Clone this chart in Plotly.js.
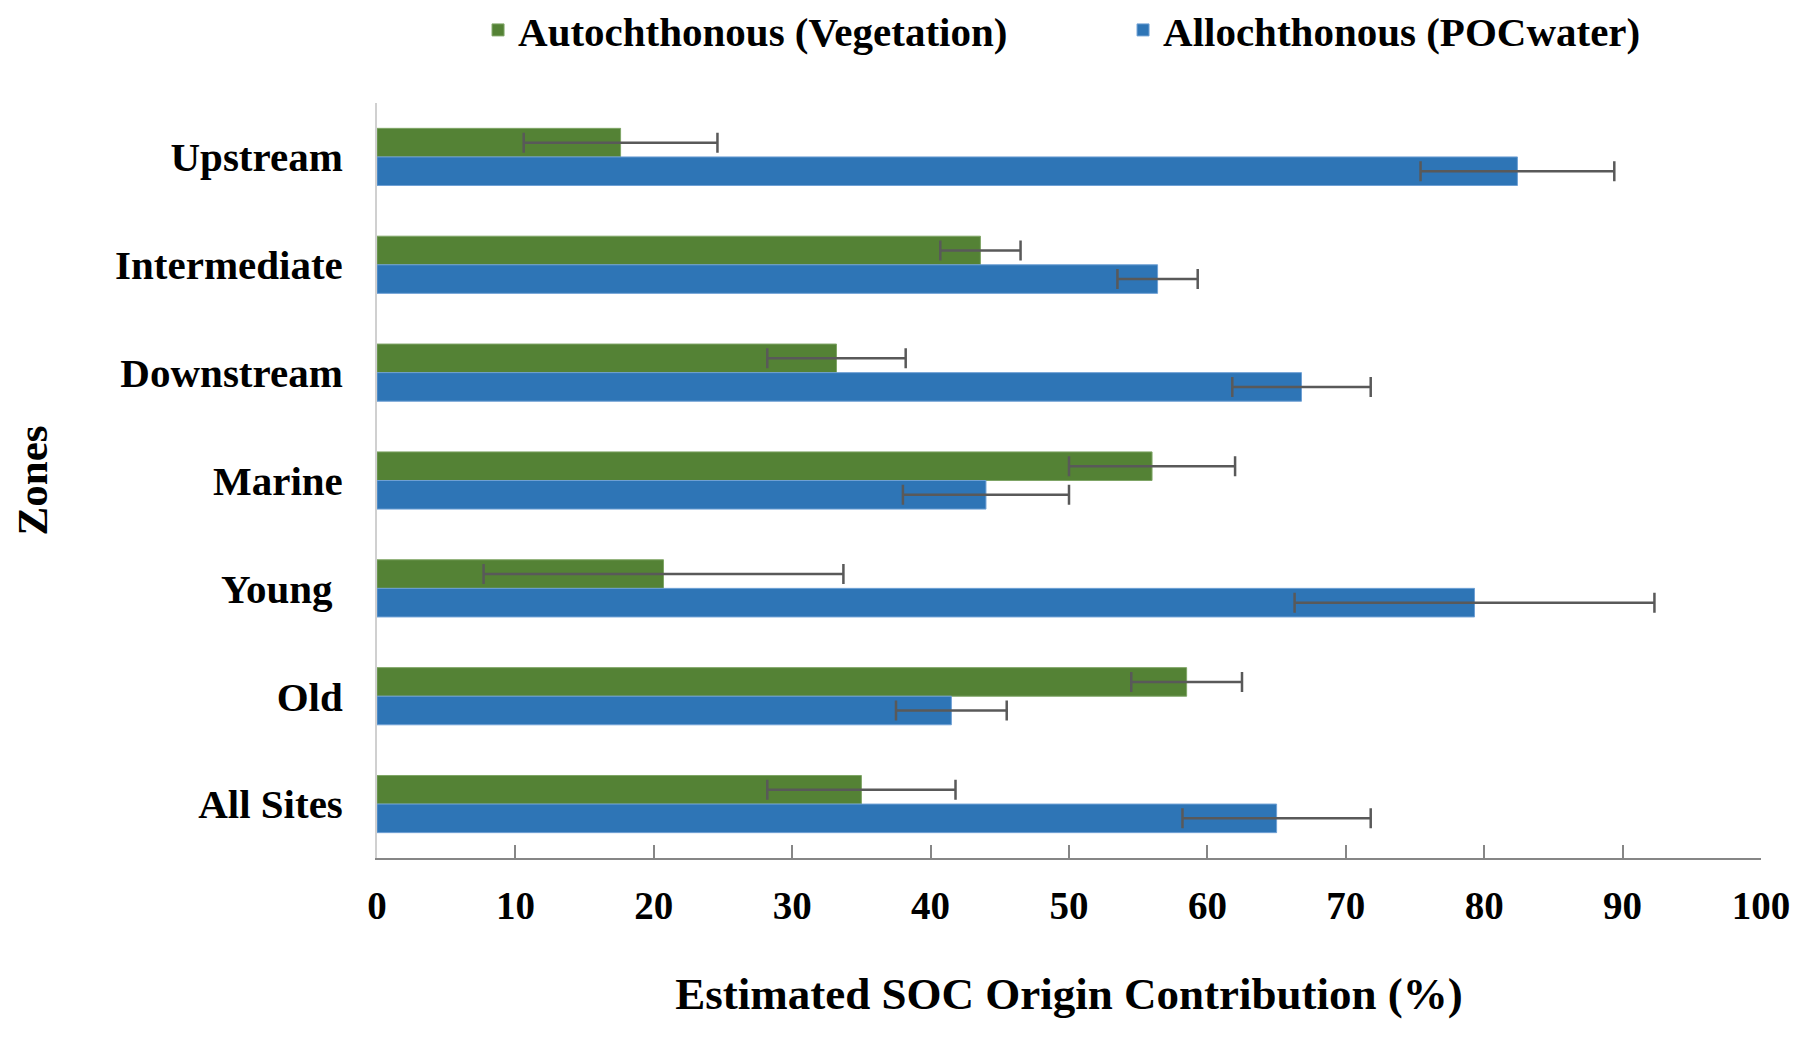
<!DOCTYPE html>
<html>
<head>
<meta charset="utf-8">
<script src="https://cdn.plot.ly/plotly-3.0.1.min.js"></script>
<style>html,body{margin:0;padding:0;background:#fff;}#chart{width:1811px;height:1043px;}</style>
</head>
<body>
<div id="chart"></div>
<script>
const zones = ["Upstream", "Intermediate", "Downstream", "Marine", "Young ", "Old", "All Sites"];
const autochthonous = [17.6, 43.6, 33.2, 56.0, 20.7, 58.5, 35.0];
const allochthonous = [82.4, 56.4, 66.8, 44.0, 79.3, 41.5, 65.0];
const errorValues = [7.0, 2.9, 5.0, 6.0, 13.0, 4.0, 6.8];
const xTicks = [0, 10, 20, 30, 40, 50, 60, 70, 80, 90, 100];

const FONT = "Liberation Serif, Times New Roman, serif";
const errStyle = {type: 'data', array: errorValues, visible: true, color: '#595959', thickness: 2.5, width: 10};

const traces = [
  {
    type: 'bar', orientation: 'h', name: 'Autochthonous (Vegetation)',
    y: zones, x: autochthonous,
    marker: {color: '#548235', line: {color: '#7fa566', width: 1}},
    error_x: errStyle, hoverinfo: 'x+y'
  },
  {
    type: 'bar', orientation: 'h', name: 'Allochthonous (POCwater)',
    y: zones, x: allochthonous,
    marker: {color: '#2E75B6', line: {color: '#6fa0d4', width: 1}},
    error_x: errStyle, hoverinfo: 'x+y'
  }
];

const layout = {
  width: 1811, height: 1043,
  margin: {l: 377, r: 50, t: 103, b: 185},
  paper_bgcolor: '#ffffff', plot_bgcolor: '#ffffff',
  font: {family: FONT, size: 40, color: '#000000', weight: 'bold'},
  barmode: 'group', bargap: 0.47, bargroupgap: 0,
  showlegend: true,
  legend: {
    orientation: 'h', xref: 'paper', x: 0.073, xanchor: 'left',
    yref: 'container', y: 0.971, yanchor: 'middle',
    font: {family: FONT, size: 41, color: '#000000', weight: 'bold'},
    entrywidth: 600, entrywidthmode: 'pixels', traceorder: 'normal',
    bgcolor: 'rgba(0,0,0,0)'
  },
  xaxis: {
    range: [0, 100], tickvals: xTicks, ticktext: xTicks.map(String),
    showgrid: false, zeroline: false,
    showline: true, linecolor: '#868686', linewidth: 2,
    ticks: 'inside', ticklen: 13, tickwidth: 2, tickcolor: '#868686',
    ticklabelstandoff: 12,
    tickfont: {family: FONT, size: 39, color: '#000000', weight: 'bold'},
    title: {text: 'Estimated SOC Origin Contribution (%)', standoff: 52,
            font: {family: FONT, size: 45, color: '#000000', weight: 'bold'}},
    fixedrange: true
  },
  yaxis: {
    type: 'category', categoryorder: 'array', categoryarray: zones,
    autorange: 'reversed',
    showgrid: false, zeroline: false,
    showline: true, linecolor: '#d0d0d0', linewidth: 2,
    ticks: '', ticklabelstandoff: 24,
    tickfont: {family: FONT, size: 41, color: '#000000', weight: 'bold'},
    title: {text: 'Zones', standoff: 54,
            font: {family: FONT, size: 43, color: '#000000', weight: 'bold'}},
    fixedrange: true
  }
};

Plotly.newPlot('chart', traces, layout, {displayModeBar: false, staticPlot: true});
</script>
</body>
</html>
